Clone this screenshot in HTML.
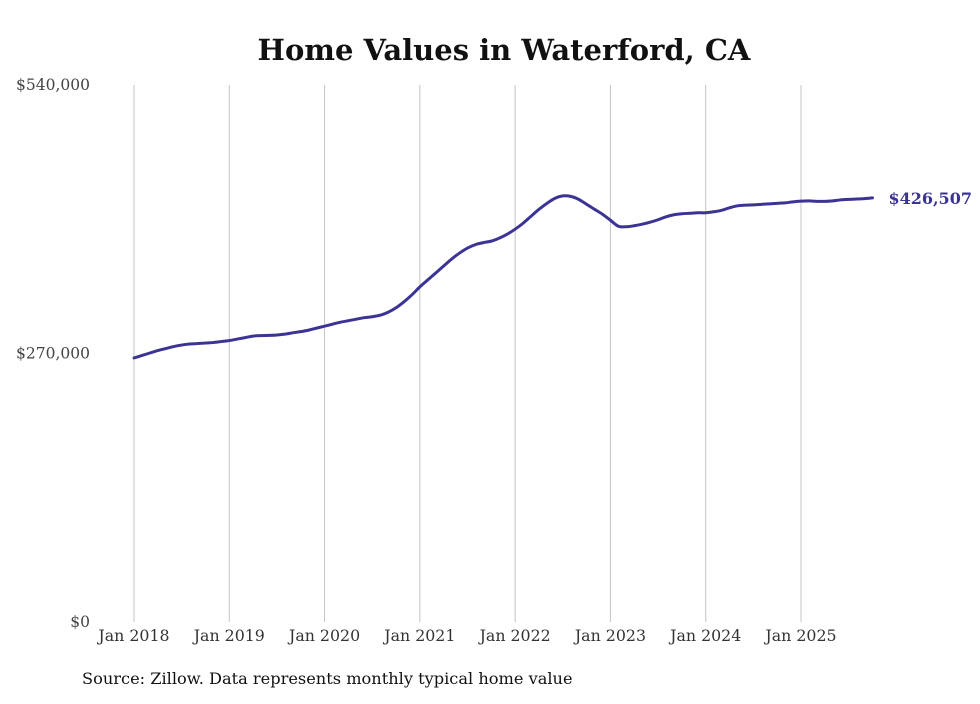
<!DOCTYPE html>
<html><head><meta charset="utf-8"><style>
body{margin:0;background:#fff;}
svg text{font-family:"DejaVu Serif","Liberation Serif",serif;}
</style></head><body>
<svg id="chart" width="980" height="699">
<text x="504" y="60" text-anchor="middle" font-size="29" font-weight="bold" fill="#111">Home Values in Waterford, CA</text>
<g id="grid"></g>
<g id="yaxis"></g>
<g id="xaxis"></g>
<g id="series"></g>
<text x="82" y="684" font-size="16.2" fill="#111">Source: Zillow. Data represents monthly typical home value</text>
</svg>
<script>
const xLabels=["Jan 2018","Jan 2019","Jan 2020","Jan 2021","Jan 2022","Jan 2023","Jan 2024","Jan 2025"];
const yTicks=[0,270000,540000];
const yTickLabels=["$0","$270,000","$540,000"];
const values=[
265.5,268,270.5,273,275,277,278.5,279.5,280,280.5,281,282,
283,284.5,286,287.5,288,288.2,288.6,289.5,290.8,292,293.5,295.5,
297.5,299.5,301.5,303,304.5,306,307,308.5,311.5,316,322,329,
337,344,351,358,365,371,376,379.5,381.5,383,386,390,
395,401,408,415,421,426,428.5,428,425,420,415,410,
404,398,397.5,398.5,400,402,404.5,407.5,409.5,410.5,411,411.5,
411.5,412.5,414,416.5,418.5,419.2,419.5,420,420.5,421,421.5,422.5,
423.2,423.5,423,423,423.5,424.5,425,425.3,425.8,426.507];
const lastLabel="$426,507";
const NS="http://www.w3.org/2000/svg";
const x0=134,perMonth=(801-134)/84,yBase=622,yTop=85,yMax=540000;
const xs=i=>x0+i*perMonth;
const ys=v=>yBase-(v/yMax)*(yBase-yTop);
function mk(tag,attrs,parent){const e=document.createElementNS(NS,tag);for(const k in attrs)e.setAttribute(k,attrs[k]);parent.appendChild(e);return e;}
const grid=document.getElementById('grid'),xa=document.getElementById('xaxis'),ya=document.getElementById('yaxis'),se=document.getElementById('series');
xLabels.forEach((l,i)=>{
  const x=xs(i*12);
  const g=mk('line',{x1:x,x2:x,y1:yTop,y2:yBase,stroke:'#c4c4c4','stroke-width':1},grid);
  
  
  const t=mk('text',{x:x,y:641,'text-anchor':'middle','font-size':15.8,fill:'#333'},xa);
  t.textContent=l;
  
  
});
yTicks.forEach((v,i)=>{
  const t=mk('text',{x:90,y:ys(v)+5,'text-anchor':'end','font-size':15.5,fill:'#444'},ya);
  t.textContent=yTickLabels[i];
  
  
});
const pts=values.map((v,i)=>[xs(i),ys(v*1000)]);
let d='M'+pts[0][0].toFixed(2)+','+pts[0][1].toFixed(2);
for(let i=0;i<pts.length-1;i++){
  const p0=pts[i-1]||pts[i],p1=pts[i],p2=pts[i+1],p3=pts[i+2]||p2;
  const c1=[p1[0]+(p2[0]-p0[0])/6,p1[1]+(p2[1]-p0[1])/6];
  const c2=[p2[0]-(p3[0]-p1[0])/6,p2[1]-(p3[1]-p1[1])/6];
  d+=' C'+c1.map(n=>n.toFixed(2)).join(',')+' '+c2.map(n=>n.toFixed(2)).join(',')+' '+p2.map(n=>n.toFixed(2)).join(',');
}
const p=mk('path',{d:d,fill:'none',stroke:'#3b3494','stroke-width':3,'stroke-linejoin':'round','stroke-linecap':'round'},se);


const li=values.length-1;
const lt=mk('text',{x:xs(li)+16,y:ys(values[li]*1000)+6,'font-size':16,'font-weight':'bold',fill:'#3b3494'},se);
lt.textContent=lastLabel;


</script>
</body></html>
